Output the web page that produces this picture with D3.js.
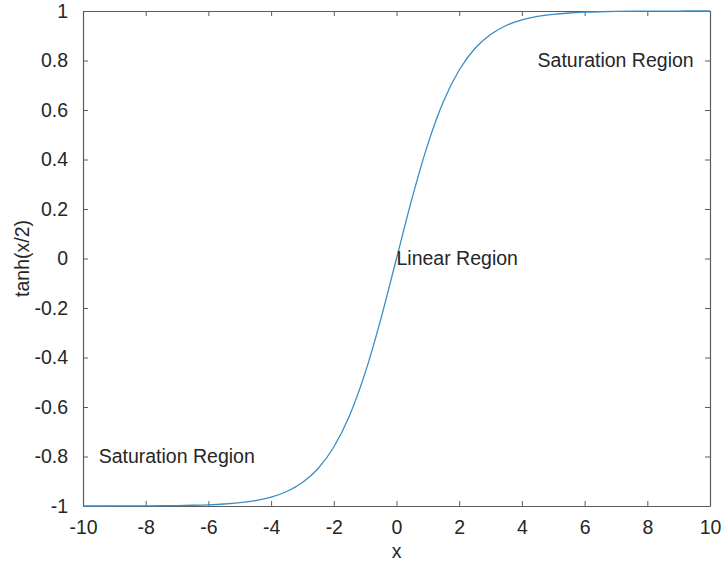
<!DOCTYPE html>
<html>
<head>
<meta charset="utf-8">
<script src="https://cdn.jsdelivr.net/npm/d3@7"></script>
<style>
  html, body { margin: 0; padding: 0; background: #fff; }
  svg text { font-family: "Liberation Sans", Arial, sans-serif; fill: #262626; }
</style>
</head>
<body>
<div id="chart"></div>
<script>
// values, x from -10 to 10 in steps of 0.5
const xValues = [-10, -9.5, -9, -8.5, -8, -7.5, -7, -6.5, -6, -5.5, -5, -4.5, -4, -3.5, -3, -2.5, -2, -1.5, -1, -0.5,
  0, 0.5, 1, 1.5, 2, 2.5, 3, 3.5, 4, 4.5, 5, 5.5, 6, 6.5, 7, 7.5, 8, 8.5, 9, 9.5, 10];
const yValues = [-1.0, -1.0, -0.9998, -0.9996, -0.9993, -0.9989, -0.9982, -0.997, -0.9951, -0.9919, -0.9866, -0.978, -0.964, -0.9413, -0.9051, -0.8483, -0.7616, -0.6351, -0.4621, -0.2449,
  0, 0.2449, 0.4621, 0.6351, 0.7616, 0.8483, 0.9051, 0.9413, 0.964, 0.978, 0.9866, 0.9919, 0.9951, 0.997, 0.9982, 0.9989, 0.9993, 0.9996, 0.9998, 1.0, 1.0];

const xTicks = [-10, -8, -6, -4, -2, 0, 2, 4, 6, 8, 10];
const yTicks = [-1, -0.8, -0.6, -0.4, -0.2, 0, 0.2, 0.4, 0.6, 0.8, 1];

const annotations = [
  { x: 0, y: 0, text: "Linear Region" },
  { x: 4.5, y: 0.8, text: "Saturation Region" },
  { x: -9.5, y: -0.8, text: "Saturation Region" }
];

const width = 725, height = 568;
const margin = { top: 11, right: 15, bottom: 62, left: 83 };
const axisColor = "#5c5c5c";
const fontSize = 19.5;

const svg = d3.select("#chart").append("svg")
  .attr("width", width)
  .attr("height", height);

const x = d3.scaleLinear().domain([-10, 10]).range([margin.left, width - margin.right]);
const y = d3.scaleLinear().domain([-1, 1]).range([height - margin.bottom, margin.top]);

const tickLen = 5;
const plain = d => String(d); // plain hyphen for negatives, like the reference

// box with inward ticks on all four sides (matlab style)
function styleAxis(g) {
  g.select(".domain").attr("stroke", axisColor).attr("stroke-width", 1.2);
  g.selectAll(".tick line").attr("stroke", axisColor).attr("stroke-width", 1);
  g.selectAll(".tick text").attr("font-size", fontSize).attr("fill", "#262626")
    .attr("font-family", "Liberation Sans, Arial, sans-serif");
}

svg.append("g")
  .attr("transform", `translate(0,${y(-1)})`)
  .call(d3.axisBottom(x).tickValues(xTicks).tickSize(-tickLen).tickPadding(14).tickSizeOuter(0).tickFormat(plain))
  .call(styleAxis);

svg.append("g")
  .attr("transform", `translate(0,${y(1)})`)
  .call(d3.axisTop(x).tickValues(xTicks).tickSize(-tickLen).tickSizeOuter(0).tickFormat(""))
  .call(styleAxis);

svg.append("g")
  .attr("transform", `translate(${x(-10)},0)`)
  .call(d3.axisLeft(y).tickValues(yTicks).tickSize(-tickLen).tickPadding(15).tickSizeOuter(0).tickFormat(plain))
  .call(styleAxis);

svg.append("g")
  .attr("transform", `translate(${x(10)},0)`)
  .call(d3.axisRight(y).tickValues(yTicks).tickSize(-tickLen).tickSizeOuter(0).tickFormat(""))
  .call(styleAxis);

// the curve
const points = xValues.map((d, i) => [d, yValues[i]]);
const line = d3.line()
  .x(d => x(d[0]))
  .y(d => y(d[1]))
  .curve(d3.curveMonotoneX);

svg.append("path")
  .datum(points)
  .attr("fill", "none")
  .attr("stroke", "#3a8cc4")
  .attr("stroke-width", 1.3)
  .attr("d", line);

// annotations
svg.selectAll(".note")
  .data(annotations)
  .join("text")
  .attr("class", "note")
  .attr("x", d => x(d.x))
  .attr("y", d => y(d.y))
  .attr("dy", "0.35em")
  .attr("font-size", fontSize)
  .text(d => d.text);

// axis labels
svg.append("text")
  .attr("x", x(0))
  .attr("y", height - 10)
  .attr("text-anchor", "middle")
  .attr("font-size", fontSize)
  .text("x");

svg.append("text")
  .attr("transform", `translate(29,${y(0)}) rotate(-90)`)
  .attr("text-anchor", "middle")
  .attr("font-size", fontSize)
  .text("tanh(x/2)");
</script>
</body>
</html>
